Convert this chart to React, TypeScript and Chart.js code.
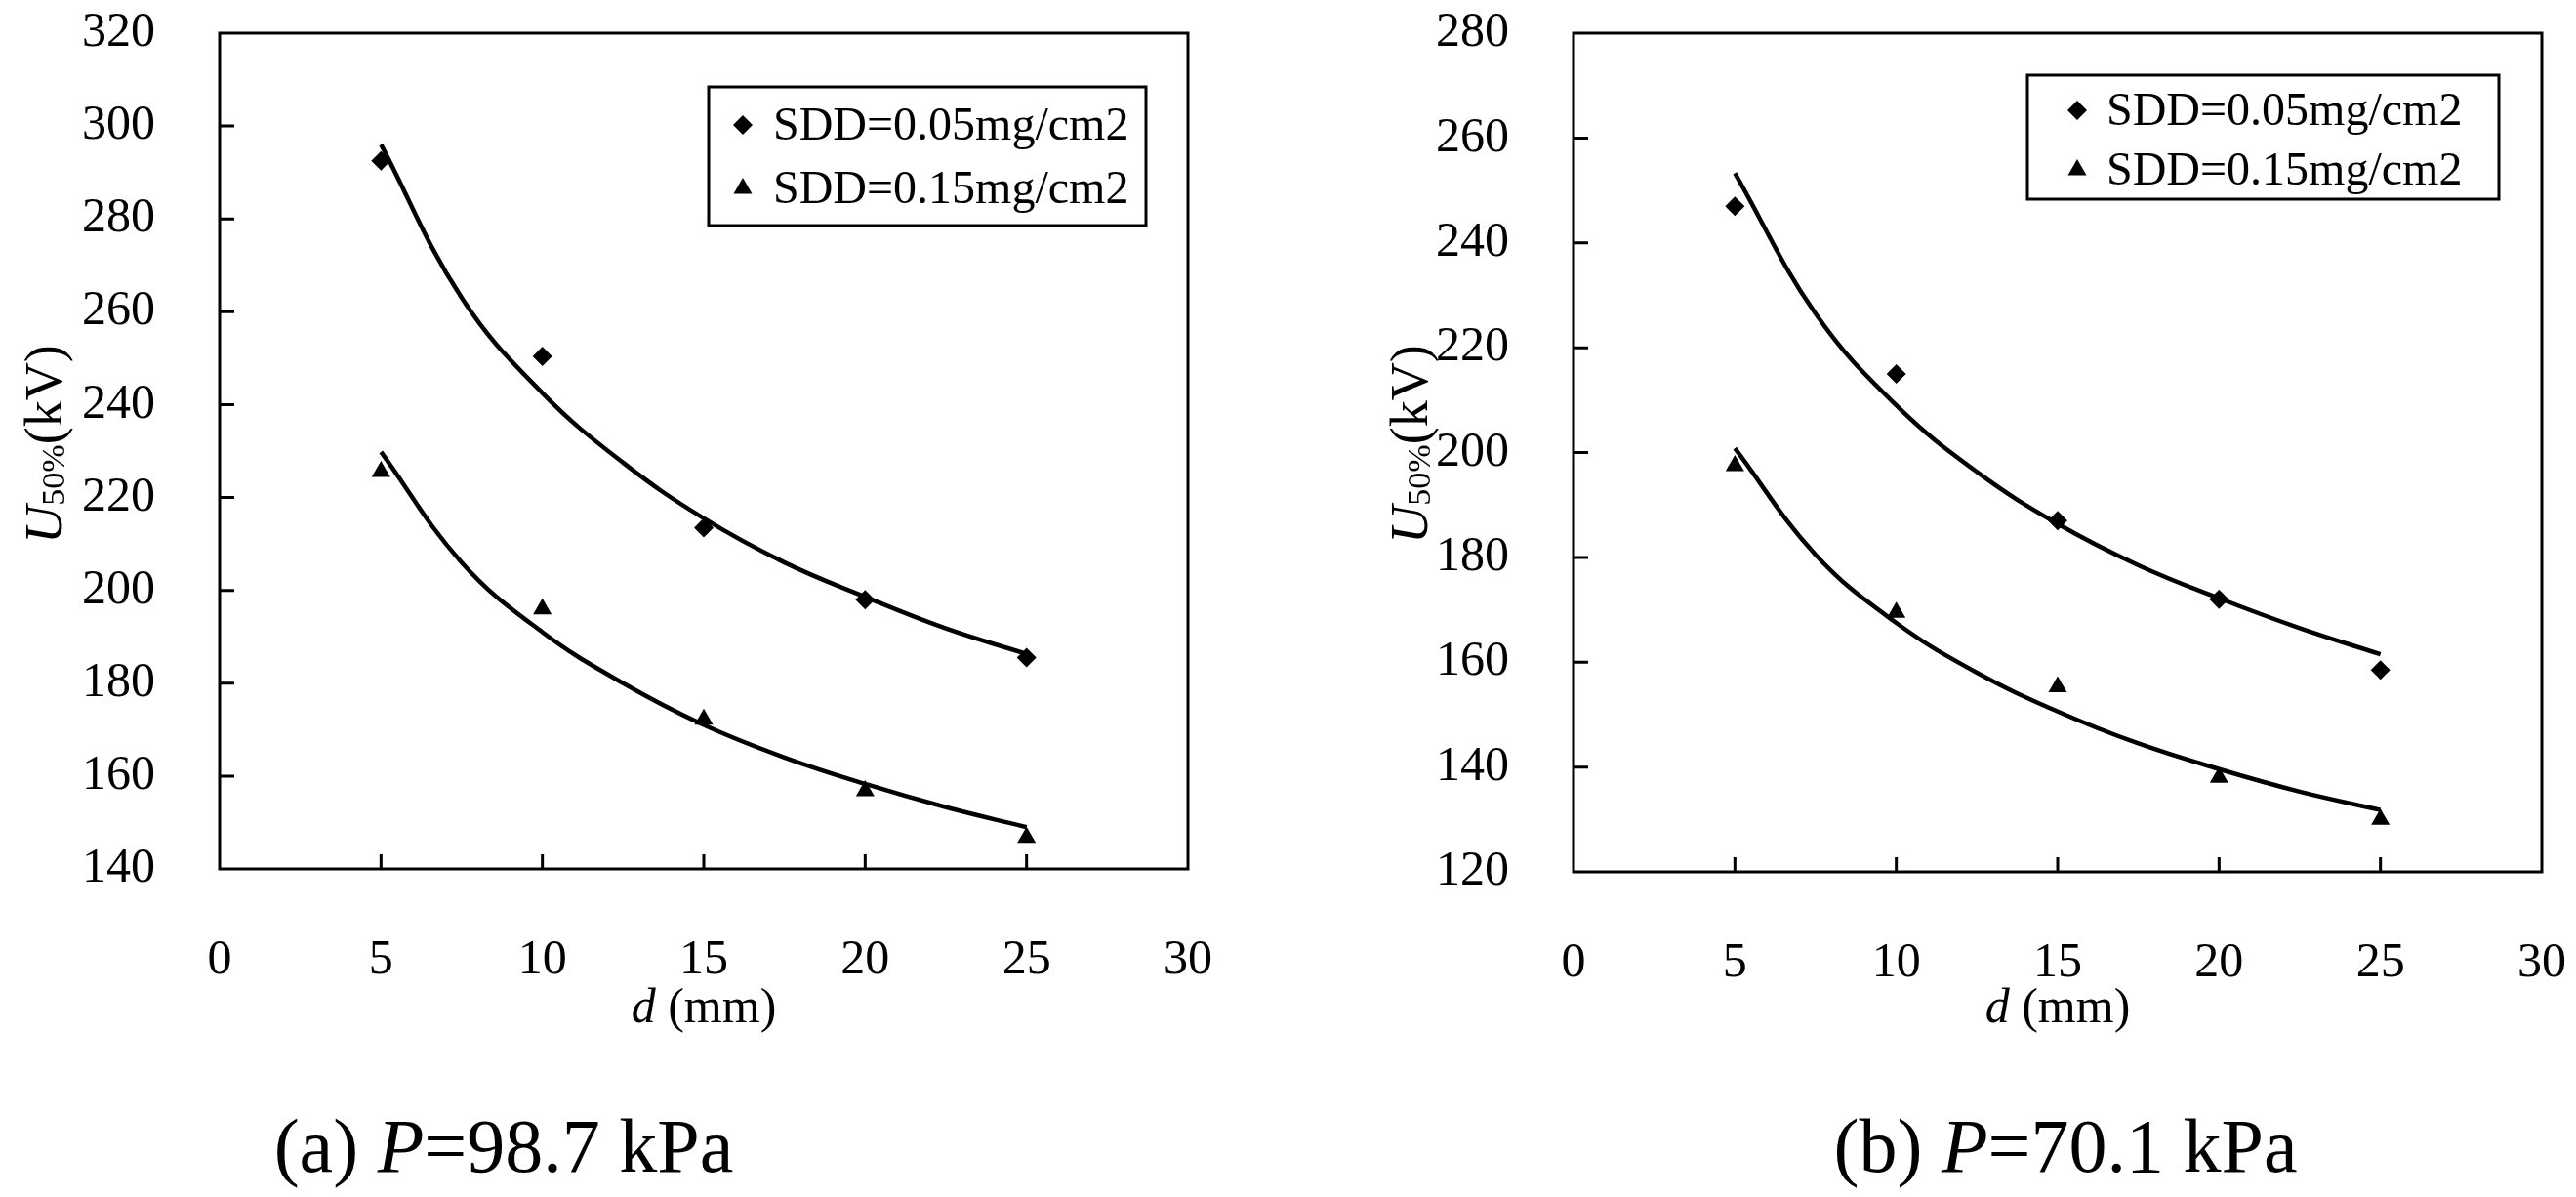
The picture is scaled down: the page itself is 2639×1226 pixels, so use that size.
import { useEffect, useRef } from 'react';
import { Chart, registerables, Plugin } from 'chart.js';
import { drawPoint } from 'chart.js/helpers';

Chart.register(...registerables);

const FONT = '"Liberation Serif", "Times New Roman", serif';

// electrode distance d (mm) of the measured points
const distances = [5, 10, 15, 20, 25];
// positions along the fitted curves
const fitDistances = [5, 7.5, 10, 12.5, 15, 17.5, 20, 22.5, 25];
const xTicks = [0, 5, 10, 15, 20, 25, 30];

const seriesLabels = ['SDD=0.05mg/cm2', 'SDD=0.15mg/cm2'];

// (a) P=98.7 kPa
const yTicksA = [140, 160, 180, 200, 220, 240, 260, 280, 300, 320];
const a005 = [292.5, 250.4, 213.5, 198, 185.5];
const a015 = [225.6, 196, 172.2, 156.8, 146.8];
const aFit005 = [296, 263, 242.5, 227.5, 215.5, 206, 198.6, 191.8, 186.3];
const aFit015 = [229.8, 206, 191, 180, 171, 164, 158.3, 153.3, 149];

// (b) P=70.1 kPa
const yTicksB = [120, 140, 160, 180, 200, 220, 240, 260, 280];
const b005 = [247, 215, 187, 172, 158.5];
const b015 = [197.5, 169.5, 155.3, 138, 130];
const bFit005 = [253.3, 226.5, 209, 196.3, 186.4, 178.5, 172.2, 166.5, 161.5];
const bFit015 = [200.8, 180.5, 167.5, 158, 150.6, 144.5, 139.6, 135.3, 131.8];

type Run = { text: string; size: number; italic?: boolean; dy?: number };

function drawRuns(ctx: CanvasRenderingContext2D, runs: Run[], cx: number, baseline: number) {
  const fontOf = (r: Run) => `${r.italic ? 'italic ' : ''}${r.size}px ${FONT}`;
  let total = 0;
  for (const r of runs) {
    ctx.font = fontOf(r);
    total += ctx.measureText(r.text).width;
  }
  let x = cx - total / 2;
  ctx.textAlign = 'left';
  ctx.textBaseline = 'alphabetic';
  for (const r of runs) {
    ctx.font = fontOf(r);
    ctx.fillText(r.text, x, baseline + (r.dy || 0));
    x += ctx.measureText(r.text).width;
  }
}

interface LegendBox {
  x: number; y: number; w: number; h: number;
  row1: number; row2: number; markerX: number; textX: number;
}

interface PanelProps {
  left: number;
  width: number;
  area: { left: number; right: number; top: number; bottom: number };
  yTicks: number[];
  pts005: number[];
  pts015: number[];
  fit005: number[];
  fit015: number[];
  tag: string;
  pressure: string;
  captionX: number;
  yTitleX: number;
  legend: LegendBox;
}

const HEIGHT = 1226;

function Panel(props: PanelProps) {
  const canvasRef = useRef<HTMLCanvasElement>(null);

  useEffect(() => {
    if (!canvasRef.current) return;
    const { area, legend } = props;

    const frame: Plugin<'scatter'> = {
      id: 'frame',
      afterDraw(chart) {
        const ctx = chart.ctx;
        const ca = chart.chartArea;
        const xs = chart.scales.x;
        const ys = chart.scales.y;
        ctx.save();
        ctx.strokeStyle = '#000';
        ctx.fillStyle = '#000';
        ctx.lineWidth = 3;
        ctx.strokeRect(ca.left, ca.top, ca.right - ca.left, ca.bottom - ca.top);

        // inward tick marks
        ctx.beginPath();
        xTicks.slice(1, -1).forEach((v) => {
          const px = xs.getPixelForValue(v);
          ctx.moveTo(px, ca.bottom);
          ctx.lineTo(px, ca.bottom - 15);
        });
        props.yTicks.slice(1, -1).forEach((v) => {
          const py = ys.getPixelForValue(v);
          ctx.moveTo(ca.left, py);
          ctx.lineTo(ca.left + 15, py);
        });
        ctx.stroke();

        // legend
        const lx = ca.left + legend.x;
        const ly = ca.top + legend.y;
        ctx.lineWidth = 3;
        ctx.strokeRect(lx, ly, legend.w, legend.h);
        const rows = [legend.row1, legend.row2];
        const markers = chart.data.datasets.filter((d: any) => !d.showLine);
        markers.forEach((d: any, i: number) => {
          const cy = ly + rows[i];
          ctx.fillStyle = '#000';
          drawPoint(ctx, { pointStyle: d.pointStyle, radius: d.pointRadius, rotation: 0, borderWidth: 0 } as any, lx + legend.markerX, cy);
          ctx.font = `48px ${FONT}`;
          ctx.textAlign = 'left';
          ctx.textBaseline = 'middle';
          ctx.fillText(d.label, lx + legend.textX, cy + 2);
        });

        // axis titles and caption
        ctx.fillStyle = '#000';
        drawRuns(ctx, [
          { text: 'd', size: 50, italic: true },
          { text: ' (mm)', size: 50 },
        ], (ca.left + ca.right) / 2, 1047);

        ctx.save();
        ctx.translate(ca.left + props.yTitleX, 455);
        ctx.rotate(-Math.PI / 2);
        drawRuns(ctx, [
          { text: 'U', size: 54, italic: true },
          { text: '50%', size: 34, dy: 3 },
          { text: '(kV)', size: 54 },
        ], 0, 0);
        ctx.restore();

        drawRuns(ctx, [
          { text: `${props.tag} `, size: 78 },
          { text: 'P', size: 78, italic: true },
          { text: `=${props.pressure} kPa`, size: 78 },
        ], props.captionX, 1200);
        ctx.restore();
      },
    };

    const tickFont = { family: FONT, size: 50 };

    const chart = new Chart(canvasRef.current, {
      type: 'scatter',
      data: {
        datasets: [
          {
            label: seriesLabels[0],
            data: distances.map((x, i) => ({ x, y: props.pts005[i] })),
            pointStyle: 'rectRot',
            pointRadius: 10,
            backgroundColor: '#000',
            borderWidth: 0,
            showLine: false,
          },
          {
            label: seriesLabels[1],
            data: distances.map((x, i) => ({ x, y: props.pts015[i] })),
            pointStyle: 'triangle',
            pointRadius: 11,
            backgroundColor: '#000',
            borderWidth: 0,
            showLine: false,
          },
          {
            label: 'fit 0.05',
            data: fitDistances.map((x, i) => ({ x, y: props.fit005[i] })),
            showLine: true,
            borderColor: '#000',
            borderWidth: 4.5,
            pointRadius: 0,
            tension: 0.4,
          },
          {
            label: 'fit 0.15',
            data: fitDistances.map((x, i) => ({ x, y: props.fit015[i] })),
            showLine: true,
            borderColor: '#000',
            borderWidth: 4.5,
            pointRadius: 0,
            tension: 0.4,
          },
        ],
      },
      options: {
        responsive: false,
        animation: false,
        devicePixelRatio: 1,
        layout: {
          padding: { top: area.top, right: props.width - area.right, left: 0, bottom: 0 },
        },
        plugins: {
          legend: { display: false },
          tooltip: { enabled: false },
        },
        scales: {
          x: {
            type: 'linear',
            min: xTicks[0],
            max: xTicks[xTicks.length - 1],
            afterBuildTicks: (scale) => {
              scale.ticks = xTicks.map((value) => ({ value }));
            },
            afterFit: (scale: any) => {
              scale.height = HEIGHT - area.bottom;
              scale.paddingLeft = 0;
              scale.paddingRight = 0;
            },
            grid: { display: false, drawTicks: false },
            border: { display: false },
            ticks: { font: tickFont, color: '#000', padding: 64, autoSkip: false, maxRotation: 0 },
          },
          y: {
            type: 'linear',
            min: props.yTicks[0],
            max: props.yTicks[props.yTicks.length - 1],
            afterBuildTicks: (scale) => {
              scale.ticks = props.yTicks.map((value) => ({ value }));
            },
            afterFit: (scale: any) => {
              scale.width = area.left;
              scale.paddingTop = 0;
              scale.paddingBottom = 0;
            },
            grid: { display: false, drawTicks: false },
            border: { display: false },
            ticks: { font: tickFont, color: '#000', padding: 66, autoSkip: false },
          },
        },
      },
      plugins: [frame],
    });

    return () => {
      chart.destroy();
    };
  }, []);

  return (
    <canvas
      ref={canvasRef}
      width={props.width}
      height={HEIGHT}
      style={{ position: 'absolute', left: props.left, top: 0, width: props.width, height: HEIGHT }}
    />
  );
}

export default function App() {
  return (
    <div style={{ position: 'absolute', left: 0, top: 0, width: 2639, height: HEIGHT, background: '#fff', overflow: 'hidden' }}>
      <Panel
        left={0}
        width={1300}
        area={{ left: 225, right: 1217, top: 34, bottom: 890 }}
        yTicks={yTicksA}
        pts005={a005}
        pts015={a015}
        fit005={aFit005}
        fit015={aFit015}
        tag="(a)"
        pressure="98.7"
        captionX={516}
        yTitleX={-162}
        legend={{ x: 501, y: 55, w: 448, h: 142, row1: 39, row2: 104, markerX: 35, textX: 66 }}
      />
      <Panel
        left={1300}
        width={1339}
        area={{ left: 312, right: 1304, top: 34, bottom: 893 }}
        yTicks={yTicksB}
        pts005={b005}
        pts015={b015}
        fit005={bFit005}
        fit015={bFit015}
        tag="(b)"
        pressure="70.1"
        captionX={816}
        yTitleX={-150}
        legend={{ x: 465, y: 43, w: 483, h: 127, row1: 36, row2: 97, markerX: 51, textX: 81 }}
      />
    </div>
  );
}
